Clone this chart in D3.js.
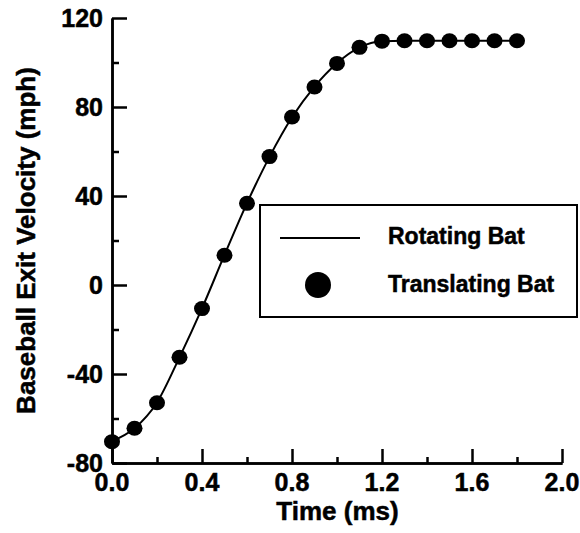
<!DOCTYPE html>
<html>
<head>
<meta charset="utf-8">
<script src="https://cdn.jsdelivr.net/npm/d3@7"></script>
<style>
  body { margin: 0; background: #fff; }
</style>
</head>
<body>
<div id="chart"></div>
<script>
var times = [0.0, 0.1, 0.2, 0.3, 0.4, 0.5, 0.6, 0.7, 0.8, 0.9, 1.0, 1.1, 1.2, 1.3, 1.4, 1.5, 1.6, 1.7, 1.8];
var rotatingBat = [-70.2, -64.4, -52.8, -32.5, -10.5, 13.5, 36.8, 57.6, 75.4, 89.2, 99.7, 106.8, 109.6, 109.8, 109.8, 109.8, 109.8, 109.8, 109.8];
var translatingBat = [-70.4, -64.4, -52.9, -32.5, -10.6, 13.4, 36.7, 57.7, 75.5, 89.0, 99.6, 106.8, 109.6, 109.8, 109.8, 109.8, 109.8, 109.8, 109.8];
var xTicks = [0.0, 0.4, 0.8, 1.2, 1.6, 2.0];
var xMinor = [0.2, 0.6, 1.0, 1.4, 1.8];
var yTicks = [-80, -40, 0, 40, 80, 120];
var yMinor = [-60, -20, 20, 60, 100];
var legendLabels = ['Rotating Bat', 'Translating Bat'];

var width = 580, height = 533;
var x0 = 112, x1 = 562, y0 = 463, y1 = 18;

var svg = d3.select('#chart')
    .append('svg')
    .attr('width', width)
    .attr('height', height);

var x = d3.scaleLinear().domain([0, 2]).range([x0, x1]);
var y = d3.scaleLinear().domain([-80, 120]).range([y0, y1]);

// bold text helper
function label(sel, size) {
    return sel.attr('font-family', '"Liberation Sans", Arial, sans-serif')
        .attr('font-weight', 'bold')
        .attr('font-size', size)
        .attr('fill', '#000')
        .attr('stroke', '#000')
        .attr('stroke-width', 0.5);
}

// axes, ticks pointing inward
var xAxis = svg.append('g').attr('transform', 'translate(0,' + y0 + ')');
xAxis.call(d3.axisTop(x).tickValues(xTicks).tickSize(14).tickSizeOuter(0).tickFormat(''));
xAxis.append('g').call(d3.axisTop(x).tickValues(xMinor).tickSize(6).tickSizeOuter(0).tickFormat(''));
var yAxis = svg.append('g').attr('transform', 'translate(' + x0 + ',0)');
yAxis.call(d3.axisRight(y).tickValues(yTicks).tickSize(15).tickSizeOuter(0).tickFormat(''));
yAxis.append('g').call(d3.axisRight(y).tickValues(yMinor).tickSize(7).tickSizeOuter(0).tickFormat(''));
svg.selectAll('.domain').attr('stroke', '#000').attr('stroke-width', 2.5);
svg.selectAll('.tick line').attr('stroke', '#000').attr('stroke-width', 2.5);

// tick labels
svg.selectAll('.xlab')
    .data(xTicks)
    .enter()
    .append('text')
    .attr('x', function (d) { return x(d); })
    .attr('y', 491)
    .attr('text-anchor', 'middle')
    .call(label, 25)
    .text(function (d) { return d.toFixed(1); });
svg.selectAll('.ylab')
    .data(yTicks)
    .enter()
    .append('text')
    .attr('x', 103)
    .attr('y', function (d) { return y(d) + 9; })
    .attr('text-anchor', 'end')
    .call(label, 25)
    .text(function (d) { return d; });

// axis titles
svg.append('text')
    .attr('x', (x0 + x1) / 2 + 0.5)
    .attr('y', 520)
    .attr('text-anchor', 'middle')
    .call(label, 26)
    .text('Time (ms)');
svg.append('text')
    .attr('transform', 'translate(35,' + ((y0 + y1) / 2) + ') rotate(-90)')
    .attr('text-anchor', 'middle')
    .call(label, 26)
    .text('Baseball Exit Velocity (mph)');

// rotating bat line
var line = d3.line()
    .x(function (d, i) { return x(times[i]); })
    .y(function (d) { return y(d); })
    .curve(d3.curveMonotoneX);
svg.append('path')
    .datum(rotatingBat)
    .attr('d', line)
    .attr('fill', 'none')
    .attr('stroke', '#000')
    .attr('stroke-width', 2);

// translating bat points
svg.selectAll('.dot')
    .data(translatingBat)
    .enter()
    .append('ellipse')
    .attr('cx', function (d, i) { return x(times[i]); })
    .attr('cy', function (d) { return y(d); })
    .attr('rx', 8)
    .attr('ry', 7.5)
    .attr('fill', '#000');

// legend
var legend = svg.append('g');
legend.append('rect')
    .attr('x', 260).attr('y', 205)
    .attr('width', 317).attr('height', 112)
    .attr('fill', '#fff')
    .attr('stroke', '#000')
    .attr('stroke-width', 2);
legend.append('line')
    .attr('x1', 280).attr('x2', 360)
    .attr('y1', 238).attr('y2', 238)
    .attr('stroke', '#000').attr('stroke-width', 2);
legend.append('circle')
    .attr('cx', 318).attr('cy', 285).attr('r', 13)
    .attr('fill', '#000');
legend.selectAll('.ltext')
    .data(legendLabels)
    .enter()
    .append('text')
    .attr('x', 388)
    .attr('y', function (d, i) { return 243.5 + i * 48.5; })
    .call(label, 23)
    .text(function (d) { return d; });
</script>
</body>
</html>
